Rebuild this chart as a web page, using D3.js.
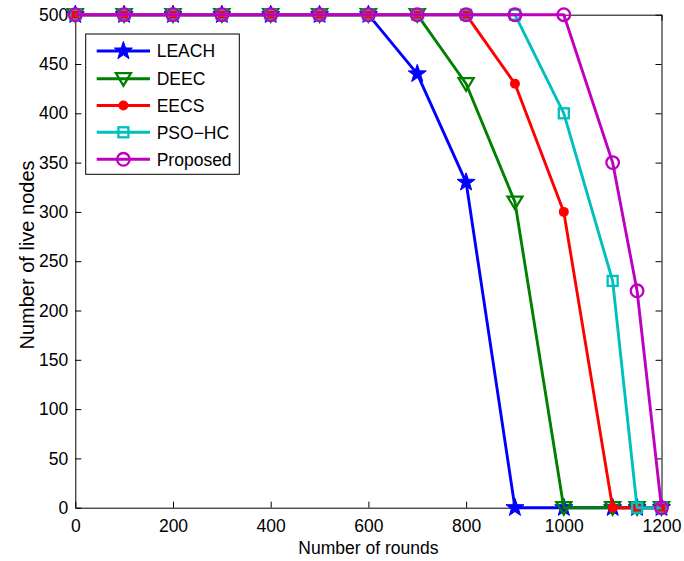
<!DOCTYPE html>
<html>
<head>
<meta charset="utf-8">
<script src="https://cdn.jsdelivr.net/npm/d3@7"></script>
<style>
html,body{margin:0;padding:0;background:#fff;}
svg{display:block;}
text{font-family:"Liberation Sans",Arial,Helvetica,sans-serif;fill:#000;}
</style>
</head>
<body>
<svg id="chart" width="684" height="561"></svg>
<script>
// ---- data ----
const rounds = [0,100,200,300,400,500,600,700,800,900,1000,1100,1150,1200];
const leach    = [500,500,500,500,500,500,500,440,330,0,0,0,0,0];
const deec     = [500,500,500,500,500,500,500,500,430,310,0,0,0,0];
const eecs     = [500,500,500,500,500,500,500,500,500,430,300,0,0,0];
const psohc    = [500,500,500,500,500,500,500,500,500,500,400,230,0,0];
const proposed = [500,500,500,500,500,500,500,500,500,500,500,350,220,0];
const seriesNames = ["LEACH","DEEC","EECS","PSO\u2212HC","Proposed"];
const xTicks = [0,200,400,600,800,1000,1200];
const yTicks = [0,50,100,150,200,250,300,350,400,450,500];

const colors = ["#0000ff","#008000","#ff0000","#00bfbf","#bf00bf"];
const markers = ["star","tridown","dot","square","circle"];
const seriesVals = [leach,deec,eecs,psohc,proposed];

const L = 75.3, R = 661.5, T = 14.7, B = 507.7;
const FS = 17.5;

const svg = d3.select("#chart");
const x = d3.scaleLinear().domain([0,1200]).range([L,R]);
const y = d3.scaleLinear().domain([0,500]).range([B,T]);

// axes
function styleAxis(g){
  g.selectAll("path.domain").attr("stroke","#000").attr("stroke-width",1);
  g.selectAll(".tick line").attr("stroke","#000").attr("stroke-width",1);
  g.selectAll("text").style("font-size",FS+"px").attr("fill","#000");
  g.attr("font-family",null).attr("font-size",null);
}
svg.append("g").attr("transform",`translate(0,${B})`)
  .call(d3.axisBottom(x).tickValues(xTicks).tickFormat(d3.format("d")).tickSize(-6).tickPadding(12).tickSizeOuter(0))
  .call(styleAxis);
svg.append("g").attr("transform",`translate(${L},0)`)
  .call(d3.axisLeft(y).tickValues(yTicks).tickFormat(d3.format("d")).tickSize(-6).tickPadding(7).tickSizeOuter(0))
  .call(styleAxis);
svg.append("g").attr("transform",`translate(0,${T})`)
  .call(d3.axisTop(x).tickValues(xTicks).tickFormat("").tickSize(-6).tickSizeOuter(0))
  .call(styleAxis);
svg.append("g").attr("transform",`translate(${R},0)`)
  .call(d3.axisRight(y).tickValues(yTicks).tickFormat("").tickSize(-6).tickSizeOuter(0))
  .call(styleAxis);

// axis labels
svg.append("text").attr("x",(L+R)/2).attr("y",554).attr("text-anchor","middle")
  .style("font-size",FS+"px").text("Number of rounds");
svg.append("text").attr("transform",`translate(33.5,255) rotate(-90)`).attr("text-anchor","middle")
  .style("font-size","20px").text("Number of live nodes");

// marker paths
function starPath(Ro){
  const ri = Ro*0.4; let p=[];
  for(let i=0;i<10;i++){
    const a = -Math.PI/2 + i*Math.PI/5;
    const rr = i%2===0?Ro:ri;
    p.push([rr*Math.cos(a), rr*Math.sin(a)]);
  }
  return "M"+p.map(q=>q[0].toFixed(2)+","+q[1].toFixed(2)).join("L")+"Z";
}
function drawMarker(g, type, color, cx, cy){
  const m = g.append("g").attr("transform",`translate(${cx},${cy})`);
  if(type==="star"){
    m.append("path").attr("d",starPath(9.5)).attr("fill",color).attr("stroke",color).attr("stroke-width",1);
  } else if(type==="tridown"){
    m.append("path").attr("d","M-7.5,-5.5L7.5,-5.5L0,7Z").attr("fill","none").attr("stroke",color).attr("stroke-width",2.3);
  } else if(type==="dot"){
    m.append("circle").attr("r",5).attr("fill",color);
  } else if(type==="square"){
    m.append("rect").attr("x",-5).attr("y",-5).attr("width",10).attr("height",10).attr("fill","none").attr("stroke",color).attr("stroke-width",2.3);
  } else if(type==="circle"){
    m.append("circle").attr("r",6.3).attr("fill","none").attr("stroke",color).attr("stroke-width",2.3);
  }
}

const line = d3.line().x(d=>x(d[0])).y(d=>y(d[1]));
seriesVals.forEach((vals,i)=>{
  const pts = rounds.map((r,j)=>[r,vals[j]]);
  const g = svg.append("g");
  g.append("path").attr("d",line(pts)).attr("fill","none").attr("stroke",colors[i]).attr("stroke-width",2.9).attr("stroke-linejoin","round");
  pts.forEach(p=>drawMarker(g,markers[i],colors[i],x(p[0]),y(p[1])));
});

// legend
const lg = svg.append("g");
lg.append("rect").attr("x",85.7).attr("y",34).attr("width",153.6).attr("height",140.3)
  .attr("fill","#fff").attr("stroke","#000").attr("stroke-width",1);
const legY = [51,78.7,105.5,132.3,159.3];
seriesNames.forEach((n,i)=>{
  lg.append("line").attr("x1",96.7).attr("x2",150).attr("y1",legY[i]).attr("y2",legY[i])
    .attr("stroke",colors[i]).attr("stroke-width",2.9);
  drawMarker(lg,markers[i],colors[i],123.4,legY[i]);
  lg.append("text").attr("x",156.7).attr("y",legY[i]+6.2).style("font-size",FS+"px").text(n);
});
</script>
</body>
</html>
